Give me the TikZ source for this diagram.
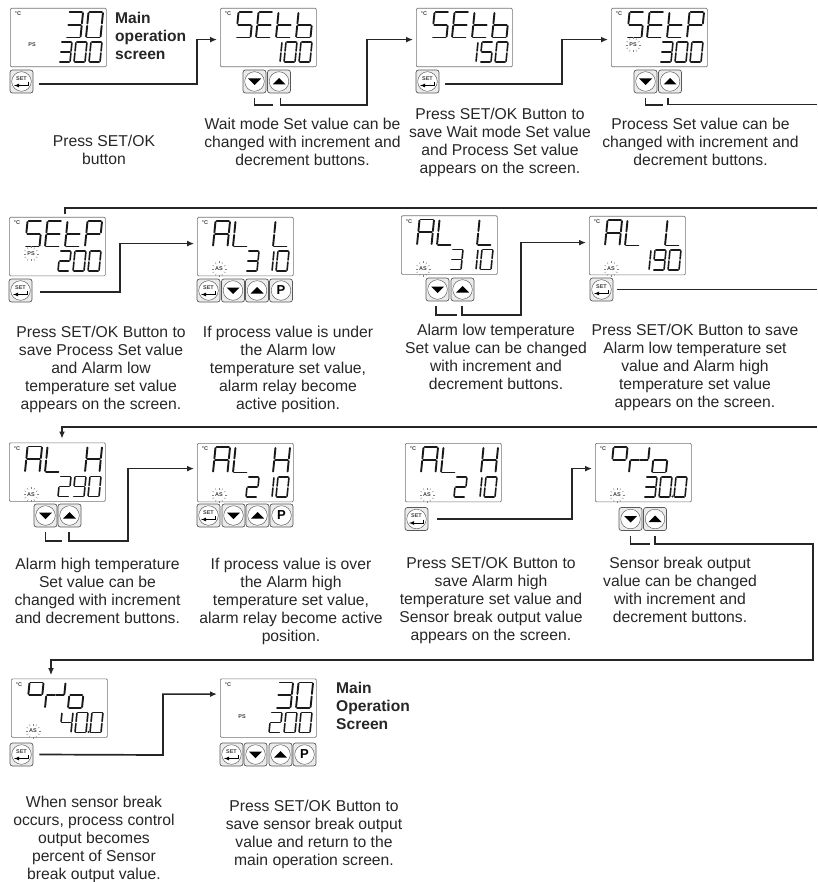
\documentclass[tikz,border=0pt]{standalone}
\usepackage{fontspec}
\setmainfont{Liberation Sans}
\usetikzlibrary{calc,arrows.meta}
% one unit is one reference pixel, y runs downwards
\newcommand{\segA}{\draw[segline] (.08,1)--(.92,1);}
\newcommand{\segB}{\draw[segline] (1,.96)--(1,.55);}
\newcommand{\segC}{\draw[segline] (1,.45)--(1,.04);}
\newcommand{\segD}{\draw[segline] (.08,0)--(.92,0);}
\newcommand{\segE}{\draw[segline] (0,.45)--(0,.04);}
\newcommand{\segF}{\draw[segline] (0,.96)--(0,.55);}
\newcommand{\segG}{\draw[segline] (.08,.5)--(.92,.5);}
\newcommand{\defglyph}[2]{\expandafter\def\csname glyph#1\endcsname{#2}}
\defglyph{0}{A,B,C,D,E,F}
\defglyph{1}{B,C}
\defglyph{2}{A,B,G,E,D}
\defglyph{3}{A,B,G,C,D}
\defglyph{4}{F,G,B,C}
\defglyph{5}{A,F,G,C,D}
\defglyph{9}{A,B,F,G,C,D}
\defglyph{S}{A,F,G,C,D}
\defglyph{E}{A,F,G,E,D}
\defglyph{t}{F,G,E,D}
\defglyph{b}{F,G,E,D,C}
\defglyph{P}{A,F,G,B,E}
\defglyph{A}{A,F,B,G,E,C}
\defglyph{L}{F,E,D}
\defglyph{H}{F,B,G,E,C}
\defglyph{h}{A,B,F,G}
\defglyph{r}{E,G}
\defglyph{j}{B,G}
\defglyph{l}{C,D,E,G}
\defglyph{x}{}
% row of characters: x, y of lower left corner, width, height, pitch, characters
\newcommand{\segrow}[7][1.9pt]{%
  \foreach \ch [count=\n from 0] in {#7} {
    \begin{scope}[shift={(#2+\n*#6,#3)},x=#4pt,y=#5pt,xslant=.1,segline/.style={line width=#1,line cap=round,black!90}]
      \expandafter\let\expandafter\curglyph\csname glyph\ch\endcsname
      \foreach \s in \curglyph {\csname seg\s\endcsname}
    \end{scope}
  }
}
% name, x, y of upper left corner, upper row, lower row
\newcommand{\display}[5]{%
  \node[dispbox,anchor=north west] (#1) at (#2,#3) {};
  \node[tagtext] (#1unit) at (#2+8,#3+6) {°C};
  \segrow{#2+16}{#3+29.5}{14.5}{25.5}{20}{#4}
  \segrow[1.6pt]{#2+49}{#3+54}{11}{20}{15}{#5}
}
% upper row of the sensor break screens, its characters are not evenly set
\newcommand{\breakrow}[2]{%
  \segrow{#1+16}{#2+29.5}{14}{25.5}{0}{h}
  \segrow{#1+34}{#2+29.5}{9}{25.5}{0}{r}
  \segrow{#1+43}{#2+29.5}{9}{25.5}{0}{j}
  \segrow{#1+57}{#2+29.5}{14}{25.5}{0}{l}
}
\newcommand{\steadytag}[3]{\node[tagtext] (#1tag) at ([shift={(22,#3)}]#1.north west) {#2};}
\newcommand{\blinktag}[3]{%
  \node[tagtext] (#1tag) at ([shift={(22,#3)}]#1.north west) {#2};
  \foreach \a in {0,30,...,330} {
    \draw[gray,line width=.4pt] ($(#1tag)+(\a:5.5)$) -- ($(#1tag)+(\a:7.5)$);
  }
}
\newcommand{\keyframe}[3]{%
  \node[keybox] (#1) at (#2,#3) {};
  \draw[black!70,fill=white] (#1) circle (9.8pt);
}
\newcommand{\setkey}[3]{%
  \keyframe{#1}{#2}{#3}
  \node[tagtext] (#1text) at (#2,#3-3) {SET};
  \draw[line width=.8pt,-latex] (#2+7,#3+.5) -- (#2+7,#3+4) -- (#2-7.5,#3+4);
}
\newcommand{\downkey}[3]{%
  \keyframe{#1}{#2}{#3}
  \fill[black] (#2-6.5,#3-3) -- (#2+6.5,#3-3) -- (#2,#3+3.5) -- cycle;
}
\newcommand{\upkey}[3]{%
  \keyframe{#1}{#2}{#3}
  \fill[black] (#2-6.5,#3+3) -- (#2+6.5,#3+3) -- (#2,#3-3.5) -- cycle;
}
\newcommand{\pkey}[3]{%
  \keyframe{#1}{#2}{#3}
  \node[font=\fontsize{13}{13}\selectfont\bfseries,inner sep=0pt] (#1text) at (#2,#3) {P};
}
\begin{document}
\begin{tikzpicture}[x=1pt,y=-1pt,line join=miter,
    dispbox/.style={draw=black!55,rounded corners=1.2pt,minimum width=96pt,minimum height=58.5pt,inner sep=0pt,line width=.7pt},
    keybox/.style={draw=black!65,fill=black!8,rounded corners=2.5pt,minimum size=23pt,inner sep=0pt,line width=.7pt},
    tagtext/.style={font=\fontsize{5.5}{5.5}\selectfont\bfseries,inner sep=0pt,text=black!75},
    note/.style={font=\fontsize{15.7}{18}\selectfont,align=center,anchor=north,inner sep=0pt,text=black!85},
    headline/.style={font=\fontsize{15.6}{18}\selectfont\bfseries,align=left,anchor=north west,inner sep=0pt,text=black!85},
    boldlink/.style={draw=black!85,line width=1.7pt},
    thinlink/.style={draw=black!85,line width=1.1pt},
    tiplink/.style={-{Latex[length=7pt,width=6pt]},shorten >=3pt}]
  \useasboundingbox (0,0) rectangle (817,882);
  % row 1
  \display{dispA}{10}{8}{x,x,3,0}{3,0,0}
  \steadytag{dispA}{PS}{37}
  \setkey{setA}{21.5}{81.5}
  \node[headline] (headA) at (115,12) {Main\\operation\\screen};
  \display{dispB}{220}{8}{S,E,t,b}{1,0,0}
  \downkey{downB}{254.5}{81.5}
  \upkey{upB}{279}{81.5}
  \display{dispC}{416}{8}{S,E,t,b}{1,5,0}
  \setkey{setC}{427.5}{81.5}
  \display{dispD}{611}{8}{S,E,t,P}{3,0,0}
  \blinktag{dispD}{PS}{37}
  \downkey{downD}{645.5}{81.5}
  \upkey{upD}{670}{81.5}
  \node[note] (noteA) at (104,135) {Press SET/OK\\button};
  \node[note] (noteB) at (302.5,117.5) {Wait mode Set value can be\\changed with increment and\\decrement buttons.};
  \node[note] (noteC) at (500,107.5) {Press SET/OK Button to\\save Wait mode Set value\\and Process Set value\\appears on the screen.};
  \node[note] (noteD) at (700.5,117.5) {Process Set value can be\\changed with increment and\\decrement buttons.};
  % row 2
  \display{dispE}{9}{217}{S,E,t,P}{2,0,0}
  \blinktag{dispE}{PS}{37}
  \setkey{setE}{20.5}{290.5}
  \display{dispF}{197}{217}{A,L,x,L}{3,1,0}
  \blinktag{dispF}{AS}{52}
  \setkey{setF}{208.5}{290.5}
  \downkey{downF}{233}{290.5}
  \upkey{upF}{257}{290.5}
  \pkey{pF}{281}{290.5}
  \display{dispG}{401}{215.5}{A,L,x,L}{3,1,0}
  \blinktag{dispG}{AS}{53.5}
  \downkey{downG}{437.5}{289.5}
  \upkey{upG}{462.5}{289.5}
  \display{dispH}{589}{216}{A,L,x,L}{1,9,0}
  \blinktag{dispH}{AS}{53}
  \setkey{setH}{601.5}{289.5}
  \node[note] (noteE) at (101,325.5) {Press SET/OK Button to\\save Process Set value\\and Alarm low\\temperature set value\\appears on the screen.};
  \node[note] (noteF) at (288,325.5) {If process value is under\\the Alarm low\\temperature set value,\\alarm relay become\\active position.};
  \node[note] (noteG) at (496,323.5) {Alarm low temperature\\Set value can be changed\\with increment and\\decrement buttons.};
  \node[note] (noteH) at (695,323.5) {Press SET/OK Button to save\\Alarm low temperature set\\value and Alarm high\\temperature set value\\appears on the screen.};
  % row 3
  \display{dispI}{9}{442.5}{A,L,x,H}{2,9,0}
  \blinktag{dispI}{AS}{52}
  \downkey{downI}{45.5}{515.5}
  \upkey{upI}{69.5}{515.5}
  \display{dispJ}{197}{443}{A,L,x,H}{2,1,0}
  \blinktag{dispJ}{AS}{52}
  \setkey{setJ}{208.5}{515.5}
  \downkey{downJ}{233.5}{515.5}
  \upkey{upJ}{257.5}{515.5}
  \pkey{pJ}{281.5}{515.5}
  \display{dispK}{405}{443}{A,L,x,H}{2,1,0}
  \blinktag{dispK}{AS}{52}
  \setkey{setK}{416.5}{519}
  \display{dispL}{595}{443}{x}{3,0,0}
  \breakrow{595}{443}
  \blinktag{dispL}{AS}{52}
  \fill[black!85] (595+77.5,496.5) circle (1.2pt);
  \downkey{downL}{630.5}{519}
  \upkey{upL}{655}{519}
  \node[note] (noteI) at (97.5,557.5) {Alarm high temperature\\Set value can be\\changed with increment\\and decrement buttons.};
  \node[note] (noteJ) at (291,557.5) {If process value is over\\the Alarm high\\temperature set value,\\alarm relay become active\\position.};
  \node[note] (noteK) at (491,556.5) {Press SET/OK Button to\\save  Alarm high\\temperature set value and\\Sensor break output value\\appears on the screen.};
  \node[note] (noteL) at (680,556.5) {Sensor break output\\value can be changed\\with increment and\\decrement buttons.};
  % row 4
  \display{dispM}{11}{678.5}{x}{4,0,0}
  \breakrow{11}{678.5}
  \blinktag{dispM}{AS}{52.5}
  \fill[black!85] (11+77.5,732) circle (1.2pt);
  \setkey{setM}{21.5}{754.5}
  \display{dispN}{220}{678.5}{x,x,3,0}{2,0,0}
  \steadytag{dispN}{PS}{38}
  \setkey{setN}{231.5}{754.5}
  \downkey{downN}{255.5}{754.5}
  \upkey{upN}{280.5}{754.5}
  \pkey{pN}{304.5}{754.5}
  \node[headline] (headN) at (336,682) {Main\\Operation\\Screen};
  \node[note] (noteM) at (94,795.5) {When sensor break\\occurs, process control\\output becomes\\percent of Sensor\\break output value.};
  \node[note] (noteN) at (314,799.5) {Press SET/OK Button to\\save sensor break output\\value and return to the\\main operation screen.};
  % connectors
  \coordinate (kneeA) at (197,84);
  \draw[boldlink,tiplink] ([shift={(6,2.5)}]setA.east) -- (kneeA) |- ([yshift=-2pt]dispB.west);
  \coordinate (openB) at (273,105);
  \coordinate (kneeB) at (367,105);
  \draw[thinlink] ([yshift=-4.5pt]downB.south) |- (openB);
  \draw[boldlink,tiplink] ([shift={(1.5,4.5)}]upB.south) |- (kneeB) |- ([yshift=-2pt]dispC.west);
  \coordinate (kneeC) at (562,84);
  \draw[boldlink,tiplink] ([shift={(6,2.5)}]setC.east) -- (kneeC) |- ([yshift=-2pt]dispD.west);
  \coordinate (openD) at (663,105);
  \coordinate (exitD) at (817,104.5);
  \draw[thinlink] ([yshift=-4.5pt]downD.south) |- (openD);
  \draw[thinlink] ([shift={(-2,4.5)}]upD.south) |- (exitD);
  \coordinate (stubE) at (65,214);
  \coordinate (enterE) at (817,208);
  \draw[thinlink] (enterE) -| (stubE);
  \coordinate (kneeE) at (120,292);
  \draw[thinlink,tiplink] ([shift={(8,1.5)}]setE.east) -- (kneeE) |- ([yshift=3pt]dispF.west);
  \coordinate (openG) at (457,315);
  \coordinate (kneeG) at (521,315);
  \draw[boldlink,line width=1.2pt] ([shift={(-1.5,5)}]downG.south) |- (openG);
  \draw[boldlink,tiplink] ([shift={(-.5,5)}]upG.south) |- (kneeG) |- ([yshift=3pt]dispH.west);
  \coordinate (exitH) at (817,289.5);
  \draw[thinlink] ([xshift=4pt]setH.east) -- (exitH);
  \coordinate (enterI) at (817,427);
  \coordinate (tipI) at (62,438.5);
  \draw[thinlink,-{Latex[length=7pt,width=6pt]}] (enterI) -| (tipI);
  \coordinate (openI) at (62,541);
  \coordinate (kneeI) at (128,541);
  \draw[boldlink,line width=1.2pt] ([yshift=-5pt]downI.south) |- (openI);
  \draw[boldlink,tiplink] ([shift={(-.5,5)}]upI.south) |- (kneeI) |- ([yshift=4pt]dispJ.west);
  \coordinate (kneeK) at (572,519);
  \draw[boldlink,tiplink] ([xshift=9pt]setK.east) -- (kneeK) |- ([yshift=4pt]dispL.west);
  \coordinate (openL) at (650,544);
  \coordinate (kneeL) at (813,544);
  \coordinate (lowerL) at (813,660);
  \coordinate (tipM) at (51,675);
  \draw[thinlink] ([yshift=-5pt]downL.south) |- (openL);
  \draw[thinlink,-{Latex[length=7pt,width=6pt]}] ([yshift=-5pt]upL.south) |- (kneeL) |- (lowerL) -| (tipM);
  \coordinate (kneeM) at (163,755);
  \draw[boldlink,tiplink] ([xshift=6pt]setM.east) -- (kneeM) |- ([yshift=14pt]dispN.west);
\end{tikzpicture}
\end{document}
